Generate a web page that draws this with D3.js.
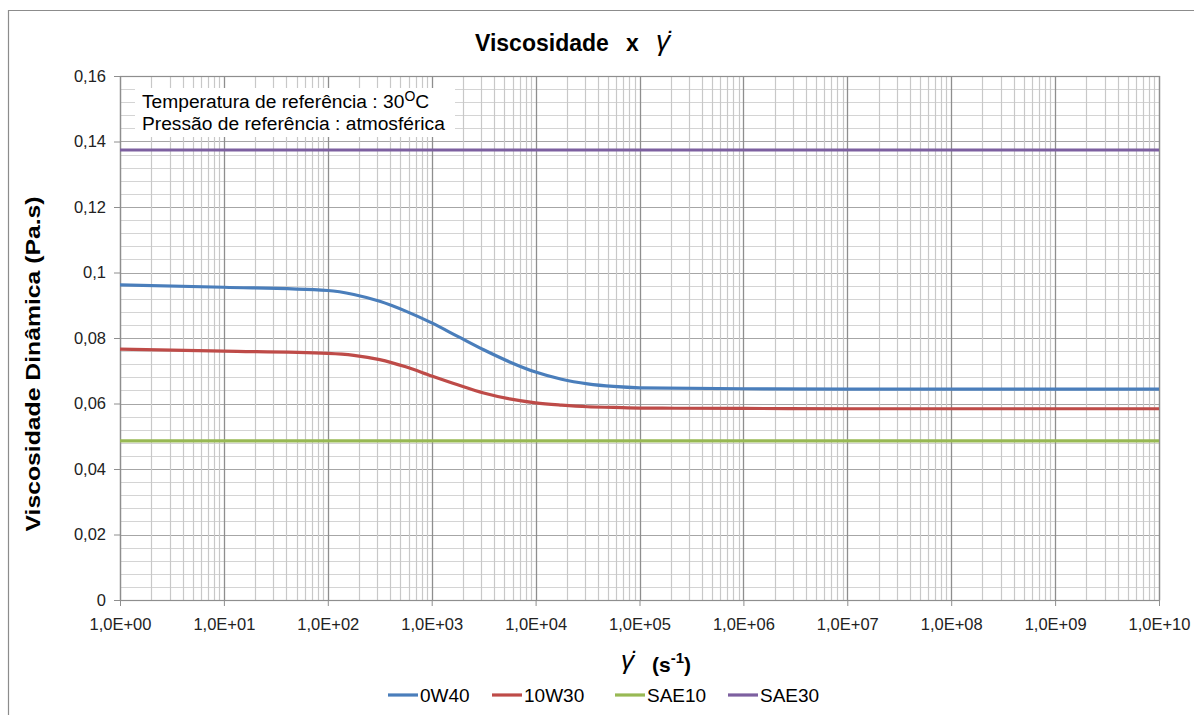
<!DOCTYPE html>
<html>
<head>
<meta charset="utf-8">
<script src="https://cdn.jsdelivr.net/npm/d3@7"></script>
<style>
  body { margin: 0; background: #fff; }
  text { font-family: "Liberation Sans", Arial, sans-serif; }
</style>
</head>
<body>
<svg id="svg" width="1194" height="715"></svg>
<script>
// Data (shear rate in s^-1, viscosity in Pa.s)
var shearRate = [1, 10, 100, 178, 316, 562, 1000, 1778, 3162, 5623, 10000, 17783, 31623, 56234, 1e5, 1e6, 1e7, 1e8, 1e9, 1e10];
var visc0W40  = [0.0962, 0.0955, 0.0945, 0.0933, 0.0912, 0.0882, 0.0846, 0.0805, 0.0764, 0.0727, 0.0696, 0.0674, 0.0660, 0.0652, 0.0648, 0.0645, 0.0644, 0.0644, 0.0644, 0.0644];
var visc10W30 = [0.0766, 0.0760, 0.0753, 0.0747, 0.0734, 0.0712, 0.0684, 0.0657, 0.0632, 0.0614, 0.0602, 0.0595, 0.0590, 0.0588, 0.0586, 0.0585, 0.0584, 0.0584, 0.0584, 0.0584];
var viscSAE10 = [0.0486, 0.0486, 0.0486, 0.0486, 0.0486, 0.0486, 0.0486, 0.0486, 0.0486, 0.0486, 0.0486, 0.0486, 0.0486, 0.0486, 0.0486, 0.0486, 0.0486, 0.0486, 0.0486, 0.0486];
var viscSAE30 = [0.1374, 0.1374, 0.1374, 0.1374, 0.1374, 0.1374, 0.1374, 0.1374, 0.1374, 0.1374, 0.1374, 0.1374, 0.1374, 0.1374, 0.1374, 0.1374, 0.1374, 0.1374, 0.1374, 0.1374];

var seriesNames  = ["0W40", "10W30", "SAE10", "SAE30"];
var seriesColors = ["#4a7ebb", "#be4b48", "#98b954", "#7d60a0"];
var seriesValues = [visc0W40, visc10W30, viscSAE10, viscSAE30];

var yTicks = [0, 0.02, 0.04, 0.06, 0.08, 0.1, 0.12, 0.14, 0.16];
var xTicks = [1, 1e1, 1e2, 1e3, 1e4, 1e5, 1e6, 1e7, 1e8, 1e9, 1e10];

var svg = d3.select("#svg");

const margin = { top: 76, right: 35, bottom: 115, left: 120 },
  width = +svg.attr("width") - margin.left - margin.right,
  height = +svg.attr("height") - margin.top - margin.bottom;

const FONT = "'Liberation Sans', Arial, sans-serif";
const SERIF = "'DejaVu Serif', 'Liberation Serif', serif";
const GAMMA_DOT = "\u03B3\u0307";

// outer chart frame (only left and top show in the picture)
svg.append("path")
  .attr("d", "M8.5,715 L8.5,10.5 L1194,10.5")
  .attr("fill", "none")
  .attr("stroke", "#8c8c8c")
  .attr("stroke-width", 1.2);

let x = d3.scaleLog().domain([1, 1e10]).range([0, width]);
let y = d3.scaleLinear().domain([0, 0.16]).range([height, 0]);

let g = svg.append("g").attr("transform", "translate(" + margin.left + "," + margin.top + ")");

// horizontal grid: minor every 0.004, major every 0.02
let hMinor = d3.range(0, 41).map(i => i * 0.004);
g.append("g").selectAll("line")
  .data(hMinor)
  .enter().append("line")
  .attr("x1", 0).attr("x2", width)
  .attr("y1", d => Math.round(y(d)) + 0.5)
  .attr("y2", d => Math.round(y(d)) + 0.5)
  .attr("stroke", d => (Math.round(d * 1000) % 20 == 0) ? "#a6a6a6" : "#d4d4d4")
  .attr("stroke-width", 1.2);

// vertical grid: 2..9 inside each decade, darker at decades
let vMinor = [];
for (let e = 0; e < 10; e++) {
  for (let k = 2; k <= 9; k++) vMinor.push(k * Math.pow(10, e));
}
g.append("g").selectAll("line")
  .data(vMinor)
  .enter().append("line")
  .attr("x1", d => Math.round(x(d)) + 0.5)
  .attr("x2", d => Math.round(x(d)) + 0.5)
  .attr("y1", 0).attr("y2", height)
  .attr("stroke", "#c8c8c8")
  .attr("stroke-width", 1.2);

g.append("g").selectAll("line")
  .data(xTicks)
  .enter().append("line")
  .attr("x1", d => Math.round(x(d)) + 0.5)
  .attr("x2", d => Math.round(x(d)) + 0.5)
  .attr("y1", 0).attr("y2", height)
  .attr("stroke", "#8e8e8e")
  .attr("stroke-width", 1.3);

// plot border
g.append("rect")
  .attr("x", 0.5).attr("y", 0.5)
  .attr("width", width).attr("height", height)
  .attr("fill", "none")
  .attr("stroke", "#8e8e8e")
  .attr("stroke-width", 1.2);

// Y axis
let yAxis = g.append("g")
  .call(d3.axisLeft(y)
    .tickValues(yTicks)
    .tickSize(6)
    .tickPadding(8)
    .tickFormat(d => d == 0 ? "0" : String(+d.toFixed(2)).replace(".", ",")));
yAxis.select(".domain").attr("stroke", "#8e8e8e");
yAxis.selectAll(".tick line").attr("stroke", "#8e8e8e");
yAxis.selectAll("text")
  .attr("font-size", 16.5)
  .attr("fill", "#222")
  .style("font-family", FONT);

// X axis
let xAxis = g.append("g")
  .attr("transform", "translate(0," + height + ")")
  .call(d3.axisBottom(x)
    .tickValues(xTicks)
    .tickSize(6)
    .tickPadding(12)
    .tickFormat(d => {
      let e = Math.round(Math.log10(d));
      return "1,0E+" + (e < 10 ? "0" + e : e);
    }));
xAxis.select(".domain").attr("stroke", "#8e8e8e");
xAxis.selectAll(".tick line").attr("stroke", "#8e8e8e");
xAxis.selectAll("text")
  .attr("font-size", 16.5)
  .attr("fill", "#222")
  .style("font-family", FONT);

// the curves
let line = d3.line()
  .x((d, i) => x(shearRate[i]))
  .y(d => y(d))
  .curve(d3.curveMonotoneX);

g.selectAll(".serie")
  .data(seriesValues)
  .enter().append("path")
  .attr("class", "serie")
  .attr("d", d => line(d))
  .attr("fill", "none")
  .attr("stroke", (d, i) => seriesColors[i])
  .attr("stroke-width", 3.2);

// annotation box
let note = g.append("g");
note.append("rect")
  .attr("x", 15).attr("y", 12)
  .attr("width", 320).attr("height", 49)
  .attr("fill", "#fff");
let t1 = note.append("text")
  .attr("x", 22).attr("y", 32)
  .attr("font-size", 19.2)
  .attr("fill", "#000");
t1.append("tspan").text("Temperatura de referência : 30");
t1.append("tspan").attr("dy", -7).attr("font-size", 14).text("O");
t1.append("tspan").attr("dy", 7).text("C");
note.append("text")
  .attr("x", 22).attr("y", 54)
  .attr("font-size", 19.2)
  .attr("fill", "#000")
  .text("Pressão de referência : atmosférica");

// title
svg.append("text")
  .attr("x", 475).attr("y", 51)
  .attr("font-size", 23)
  .attr("font-weight", "bold")
  .attr("fill", "#000")
  .text("Viscosidade");
svg.append("text")
  .attr("x", 626).attr("y", 51)
  .attr("font-size", 23)
  .attr("font-weight", "bold")
  .attr("fill", "#000")
  .text("x");
svg.append("text")
  .attr("x", 656).attr("y", 50)
  .attr("font-family", SERIF)
  .attr("font-style", "italic")
  .attr("font-size", 28)
  .attr("fill", "#000")
  .text(GAMMA_DOT);

// y axis label
svg.append("text")
  .attr("transform", "translate(40,364)rotate(-90)")
  .attr("text-anchor", "middle")
  .attr("font-size", 20)
  .attr("font-weight", "bold")
  .attr("fill", "#000")
  .attr("textLength", 335)
  .attr("lengthAdjust", "spacingAndGlyphs")
  .text("Viscosidade Dinâmica (Pa.s)");

// x axis label
svg.append("text")
  .attr("x", 621).attr("y", 669)
  .attr("font-family", SERIF)
  .attr("font-style", "italic")
  .attr("font-size", 26)
  .attr("fill", "#000")
  .text(GAMMA_DOT);
let xl = svg.append("text")
  .attr("x", 652).attr("y", 672)
  .attr("font-size", 21)
  .attr("font-weight", "bold")
  .attr("fill", "#000");
xl.append("tspan").text("(s");
xl.append("tspan").attr("dy", -9).attr("font-size", 15).text("-1");
xl.append("tspan").attr("dy", 9).text(")");

// legend
let legendX = [388, 492, 615, 728];
let legend = svg.selectAll(".legend")
  .data(seriesNames)
  .enter().append("g")
  .attr("class", "legend")
  .attr("transform", (d, i) => "translate(" + legendX[i] + ",695)");
legend.append("line")
  .attr("x1", 0).attr("x2", 30)
  .attr("y1", 0).attr("y2", 0)
  .attr("stroke", (d, i) => seriesColors[i])
  .attr("stroke-width", 3.2);
legend.append("text")
  .attr("x", 32)
  .attr("y", 0)
  .attr("dy", ".36em")
  .attr("font-size", 19)
  .attr("fill", "#000")
  .text(d => d);
</script>
</body>
</html>
